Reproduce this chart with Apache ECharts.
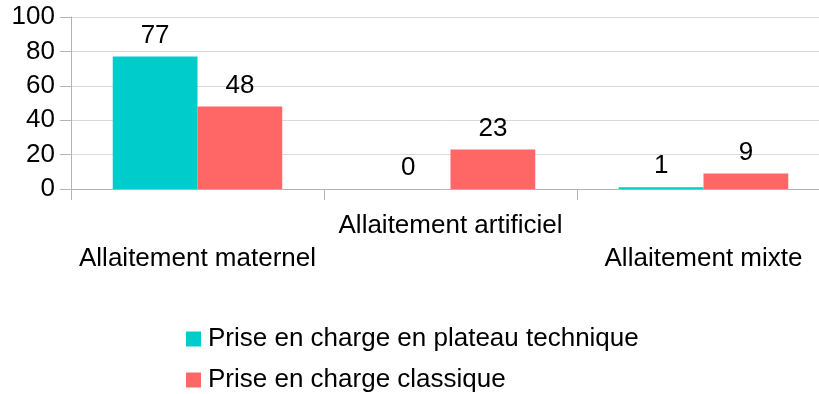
<!DOCTYPE html>
<html>
<head>
<meta charset="utf-8">
<script src="https://cdn.jsdelivr.net/npm/echarts@6/dist/echarts.min.js"></script>
<style>
  html, body { margin: 0; padding: 0; background: #ffffff; }
  #chart { width: 819px; height: 394px; }
</style>
</head>
<body>
<div id="chart"></div>
<script>
// Feeding mode by type of care
const categories = ['Allaitement maternel', 'Allaitement artificiel', 'Allaitement mixte'];
const seriesNames = ['Prise en charge en plateau technique', 'Prise en charge classique'];
const plateauValues = [77, 0, 1];
const classiqueValues = [48, 23, 9];
const yTicks = { min: 0, max: 100, interval: 20 };

const FONT = 'Liberation Sans, Arial, sans-serif';
const chart = echarts.init(document.getElementById('chart'), null, { renderer: 'canvas' });

const barLabel = {
  show: true,
  position: 'top',
  distance: 8,
  color: '#000000',
  fontFamily: FONT,
  fontSize: 26
};

// one legend entry per row, stacked vertically
const legendRow = (name, top) => ({
  orient: 'vertical',
  left: 181,
  top: top,
  icon: 'rect',
  itemWidth: 15,
  itemHeight: 15,
  textStyle: { fontFamily: FONT, fontSize: 26, color: '#000000', padding: [0, 0, 0, 2] },
  data: [name]
});

chart.setOption({
  animation: false,
  backgroundColor: '#ffffff',
  grid: { left: 71, top: 17, height: 172, width: 759, containLabel: false, outerBoundsMode: 'none' },
  legend: [legendRow(seriesNames[0], 321), legendRow(seriesNames[1], 362)],
  xAxis: {
    type: 'category',
    data: categories,
    axisLine: { lineStyle: { color: '#b3b3b3', width: 1 } },
    axisTick: { show: true, length: 11, lineStyle: { color: '#b3b3b3' } },
    axisLabel: {
      interval: 0,
      margin: 20,
      color: '#000000',
      fontFamily: FONT,
      fontSize: 26,
      lineHeight: 33,
      // alternate the labels between two rows
      formatter: (v, i) => (i % 2 === 0 ? '\n' + v : v)
    }
  },
  yAxis: {
    type: 'value',
    min: yTicks.min,
    max: yTicks.max,
    interval: yTicks.interval,
    axisLine: { show: true, lineStyle: { color: '#b3b3b3', width: 1 } },
    axisTick: { show: true, length: 11, lineStyle: { color: '#b3b3b3' } },
    axisLabel: { margin: 16, color: '#000000', fontFamily: FONT, fontSize: 26 },
    splitLine: { show: true, lineStyle: { color: '#d9d9d9', width: 1 } }
  },
  series: [
    {
      name: seriesNames[0],
      type: 'bar',
      data: plateauValues,
      itemStyle: { color: '#00cccc' },
      barGap: '0%',
      barCategoryGap: '33%',
      label: barLabel
    },
    {
      name: seriesNames[1],
      type: 'bar',
      data: classiqueValues,
      itemStyle: { color: '#ff6666' },
      barGap: '0%',
      barCategoryGap: '33%',
      label: barLabel
    }
  ]
});
</script>
</body>
</html>
